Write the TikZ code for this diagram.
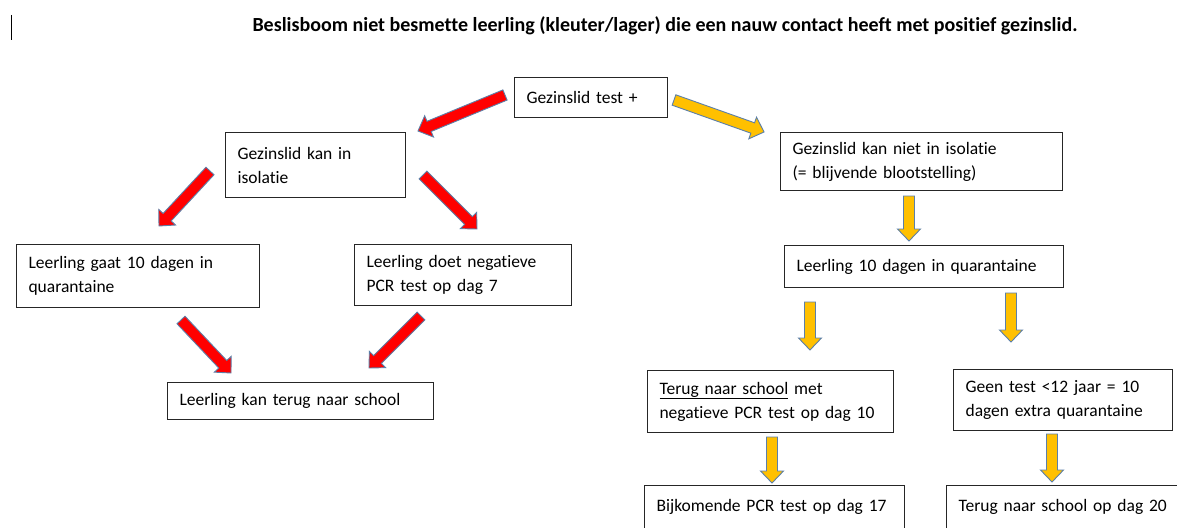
\documentclass[tikz,border=0pt]{standalone}
\usepackage{fontspec}
\setmainfont{Carlito}[Ligatures=NoCommon]
\usetikzlibrary{calc}
\definecolor{pijlrood}{HTML}{FF0000}
\definecolor{pijlgeel}{HTML}{FFC000}
\definecolor{pijllijn}{HTML}{5B7FA8}
\tikzset{
  vak/.style={draw=black!85, line width=1.1pt, inner xsep=12pt, inner ysep=0pt, align=left, anchor=north west},
  pijlrand/.style={draw=pijllijn, line width=0.9pt, line join=miter}
}
% blokpijl van #1 naar #2, vulkleur #3
\newcommand{\blokpijl}[3]{
  \path ($(#2)!12pt!(#1)$) coordinate (hals);
  \draw[pijlrand, fill=#3] ($(#1)!5.5pt!90:(#2)$) -- ($(hals)!5.5pt!90:(#2)$) -- ($(hals)!11.5pt!90:(#2)$) -- (#2)
    -- ($(hals)!11.5pt!-90:(#2)$) -- ($(hals)!5.5pt!-90:(#2)$) -- ($(#1)!5.5pt!-90:(#2)$) -- cycle;
}
\begin{document}
\begin{tikzpicture}[x=1pt, y=-1pt, font=\fontsize{17.5}{24}\selectfont]
                    \clip (0,0) rectangle (1177,527);
                    \fill[white] (0,0) rectangle (1177,527);

                    \draw[line width=1pt] (11,15) -- (11,40);
                    \node[font=\fontsize{20}{24}\selectfont\bfseries, anchor=base east] (titel) at (1081,32)
                      {Beslisboom niet besmette leerling (kleuter/lager) die een nauw contact heeft met positief gezinslid.};

                    \node[vak, minimum height=40pt, text width=129pt] (test) at (514,77) {Gezinslid test +};
                    \node[vak, minimum height=65pt, text width=156pt] (kan) at (225,132) {Gezinslid kan in\\isolatie};
                    \node[vak, minimum height=58pt, text width=258pt] (kanniet) at (780,132) {Gezinslid kan niet in isolatie\\(= blijvende blootstelling)};
                    \node[vak, minimum height=63pt, text width=219pt] (gaat) at (16,244) {Leerling gaat 10 dagen in\\quarantaine};
                    \node[vak, minimum height=61pt, text width=193pt] (doet) at (354,244) {Leerling doet negatieve\\PCR test op dag 7};
                    \node[vak, minimum height=42pt, text width=255pt] (quar) at (784,245) {Leerling 10 dagen in quarantaine};
                    \node[vak, minimum height=37pt, text width=242pt] (terug) at (167,382) {Leerling kan terug naar school};
                    \node[vak, minimum height=62pt, text width=222pt] (metpcr) at (647,370) {\underline{Terug naar school} met\\negatieve PCR test op dag 10};
                    \node[vak, minimum height=61pt, text width=195pt] (geentest) at (953,369) {Geen test <12 jaar = 10\\dagen extra quarantaine};
                    % onderste vakken lopen door onder de rand
                    \node[vak, inner ysep=12pt, text height=14pt, text depth=30pt, text width=236pt] (dag17) at (644,485) {Bijkomende PCR test op dag 17};
                    \node[vak, inner ysep=12pt, text height=14pt, text depth=30pt, text width=212pt] (dag20) at (946,485) {Terug naar school op dag 20};

                    % rode pijlen
                    \coordinate (r1a) at (505,95);   \coordinate (r1b) at (418,131);
                    \coordinate (r2a) at (210,171);  \coordinate (r2b) at (159,226);
                    \coordinate (r3a) at (423,175);  \coordinate (r3b) at (477,229);
                    \coordinate (r4a) at (181,320);  \coordinate (r4b) at (231,373);
                    \coordinate (r5a) at (421,316);  \coordinate (r5b) at (369,368);
                    \blokpijl{r1a}{r1b}{pijlrood}
                    \blokpijl{r2a}{r2b}{pijlrood}
                    \blokpijl{r3a}{r3b}{pijlrood}
                    \blokpijl{r4a}{r4b}{pijlrood}
                    \blokpijl{r5a}{r5b}{pijlrood}

                    % gele pijlen
                    \coordinate (g1a) at (674,100);  \coordinate (g1b) at (764,132);
                    \coordinate (g2a) at (909,196);  \coordinate (g2b) at (909,241);
                    \coordinate (g3a) at (810,302);  \coordinate (g3b) at (810,350);
                    \coordinate (g4a) at (1011,293); \coordinate (g4b) at (1011,342);
                    \coordinate (g5a) at (772,437);  \coordinate (g5b) at (772,483);
                    \coordinate (g6a) at (1052,434); \coordinate (g6b) at (1052,482);
                    \blokpijl{g1a}{g1b}{pijlgeel}
                    \blokpijl{g2a}{g2b}{pijlgeel}
                    \blokpijl{g3a}{g3b}{pijlgeel}
                    \blokpijl{g4a}{g4b}{pijlgeel}
                    \blokpijl{g5a}{g5b}{pijlgeel}
                    \blokpijl{g6a}{g6b}{pijlgeel}

                \end{tikzpicture}
\end{document}
